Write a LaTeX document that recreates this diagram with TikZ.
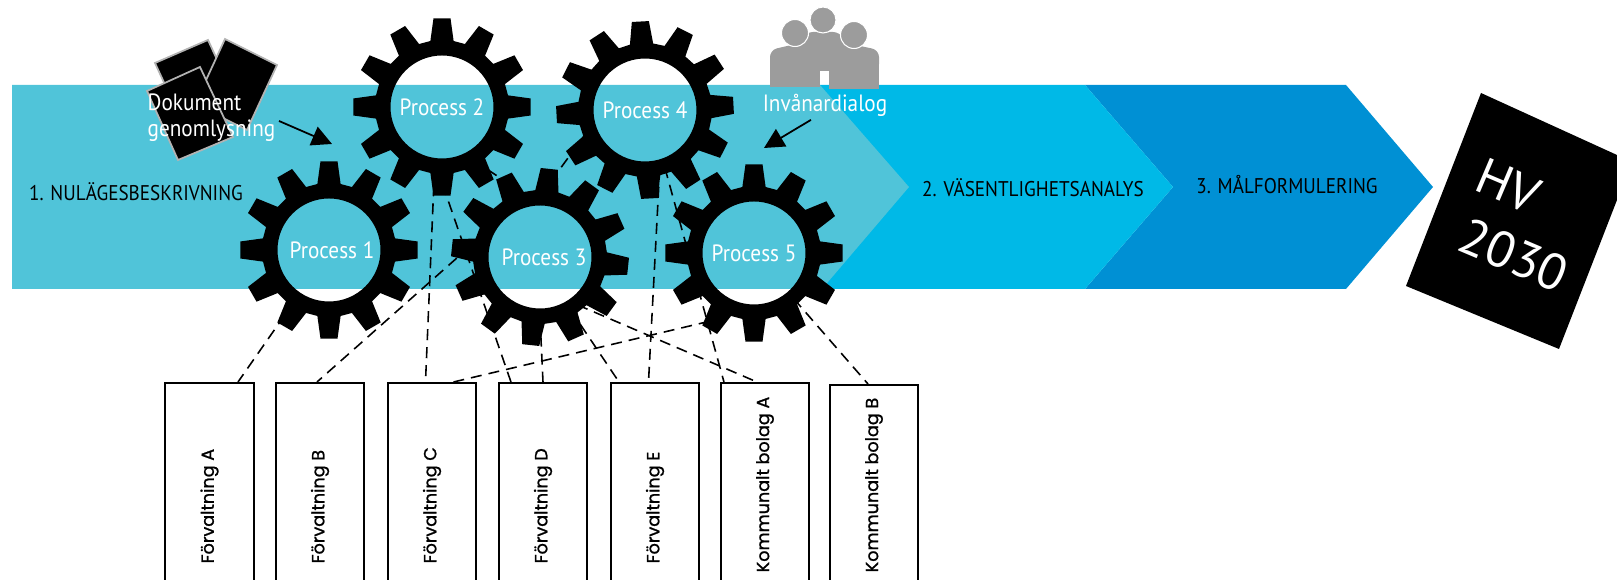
\documentclass[tikz,border=0pt]{standalone}
\usepackage{fontspec}
\setmainfont{PT Sans}
\newfontfamily\stepfont[FakeStretch=.9]{PT Sans}
\newfontfamily\boxfont[FakeBold=1.1]{Poppins}
\usetikzlibrary{arrows.meta}
\definecolor{bandone}{HTML}{50C4D9}
\definecolor{bandtwo}{HTML}{00B9E7}
\definecolor{bandthree}{HTML}{0090D4}
\definecolor{peoplegray}{HTML}{9C9C9C}
\tikzset{
  proc/.style={circle,minimum size=1.2cm,inner sep=0,text=white,font=\stepfont\fontsize{6.7}{7.5}\selectfont},
  steplabel/.style={inner sep=0,font=\stepfont\fontsize{6.05}{7}\selectfont},
  orgbox/.style={draw,line width=.5pt,minimum width=.885cm,minimum height=2.2cm,inner sep=0},
  orgtext/.style={rotate=90,anchor=west,inner sep=0,font=\boxfont\fontsize{5}{6}\selectfont},
  whitelabel/.style={inner sep=.03cm,text=white,align=left,font=\stepfont\fontsize{6.7}{7.3}\selectfont},
  link/.style={dashed,dash pattern=on .11cm off .07cm,line width=.45pt},
  pointer/.style={-{Triangle[length=.2cm,width=.2cm]},line width=.5pt},
  paper/.style={fill=black,draw=gray!60,line width=.5pt},
}
\begin{document}
\begin{tikzpicture}[x=.01cm,y=-.01cm]
  \useasboundingbox (0,0) rectangle (1617,580);
  \clip (0,0) rectangle (1617,580);
  % arrow band
  \fill[bandthree] (1085,85) -- (1346,85) -- (1433,187) -- (1346,289) -- (1085,289) -- (1173,187) -- cycle;
  \fill[bandtwo] (800,85) -- (1085,85) -- (1173,187) -- (1085,289) -- (800,289) -- cycle;
  \fill[bandone] (12,85) -- (820,85) -- (909,187) -- (822,289) -- (12,289) -- cycle;
  \node (step1) [steplabel] at (136,192) {1. NULÄGESBESKRIVNING};
  \node (step2) [steplabel] at (1033,188) {2. VÄSENTLIGHETSANALYS};
  \node (step3) [steplabel] at (1287,185) {3. MÅLFORMULERING};

  % papers
  \draw[paper] (155,63) -- (208,40) -- (232,92) -- (179,115) -- cycle;
  \draw[paper] (225,39) -- (277,65) -- (247,130) -- (195,104) -- cycle;
  \draw[paper] (147,91) -- (200,67) -- (233,137) -- (178,160) -- cycle;
  \node (dok) [whitelabel,anchor=west] at (144,118) {Dokument\\genomlysning};
  \coordinate (dokend) at (332,144);
  \draw[pointer] ([yshift=-.03cm]dok.east) -- (dokend);

  % people
  \fill[peoplegray,rounded corners=.07cm] (770,71) -- (770,50) -- (800,43) -- (806,32) -- (840,32) -- (846,43) -- (879,50) -- (879,71) -- cycle;
  \fill[peoplegray] (770,62) rectangle (820,87);
  \fill[peoplegray] (829,62) rectangle (879,89);
  \fill[peoplegray,draw=white,line width=.3pt] (795,33) circle (13.5);
  \fill[peoplegray,draw=white,line width=.3pt] (854,35) circle (13.5);
  \fill[peoplegray,draw=white,line width=.3pt] (823,20) circle (13);
  \node (dialog) [whitelabel] at (825,105) {Invånardialog};
  \coordinate (dialogend) at (764,148);
  \draw[pointer] ([xshift=-.14cm]dialog.south) -- (dialogend);

  % HV document
  \fill[black] (1481,93) -- (1617,155) -- (1617,200) -- (1559,349) -- (1406,286) -- cycle;
  \node (hv) [rotate=-23,inner sep=0,text=white,font=\fontsize{14.5}{16}\selectfont] at (1508,186) {HV};
  \node (year) [rotate=-23,inner sep=0,text=white,font=\fontsize{14.5}{16}\selectfont] at (1514,255) {2030};

  % gears, text first
  \node (p1) [proc] at (329,250) {\hspace*{.06cm}Process 1};
  \node (p2) [proc] at (442,107) {Process 2};
  \node (p3) [proc] at (540,257) {\hspace*{.08cm}\raisebox{-.03cm}{Process 3}};
  \node (p4) [proc] at (645,110) {Process 4};
  \node (p5) [proc] at (754,253) {Process 5};

  % boxes
  \foreach \name/\x/\y/\start/\txt in {fa/209.5/382/564/Förvaltning A,fb/320/382/564/Förvaltning B,fc/432/382/564/Förvaltning C,fd/543/382/564/Förvaltning D,ff/655/382/564/Förvaltning E,ka/765/382/573/Kommunalt bolag A,kb/874/384/573/Kommunalt bolag B}{
    \node (\name) [orgbox,anchor=north] at (\x,\y) {};
    \node (\name txt) [orgtext] at (\x,\start) {\txt};
  }

  % links
  \draw[link] (p1.236) -- ([xshift=.285cm]fa.north);
  \draw[link] (p3.158) -- ([xshift=-.03cm]fb.north);
  \draw[link] (p2.263) -- ([xshift=-.065cm]fc.north);
  \draw[link] (p5.261) -- ([xshift=.215cm]fc.north);
  \draw[link] (p2.265) -- ([xshift=-.32cm]fd.north);
  \draw[link] (p3.south) -- (fd.north);
  \draw[link] (p3.300) -- ([xshift=-.36cm]ff.north);
  \draw[link] (p4.284) -- ([xshift=-.065cm]ff.north);
  \draw[link] (p4.289) -- ([xshift=-.41cm]ka.north);
  \draw[link] (p3.308) -- ([xshift=-.08cm]ka.north);
  \draw[link] (p5.311) -- ([xshift=-.06cm]kb.north);
  \draw[link] (p2.300) -- (p3.100);
  \draw[link] (p3.north) -- (p4.200);

  % gear rings on top
  \foreach \proc/\rot in {p1/0,p2/0,p3/-6,p4/3,p5/0}{
    \begin{scope}[shift={(\proc)},rotate=\rot]
      \fill[black,even odd rule] (-10:67)
        \foreach \a in {0,30,...,330}{ -- (\a-10:67) -- (\a-5.5:89) -- (\a+5.5:89) -- (\a+10:67) } -- cycle
        (0,0) circle (51.5);
    \end{scope}
  }
\end{tikzpicture}
\end{document}
